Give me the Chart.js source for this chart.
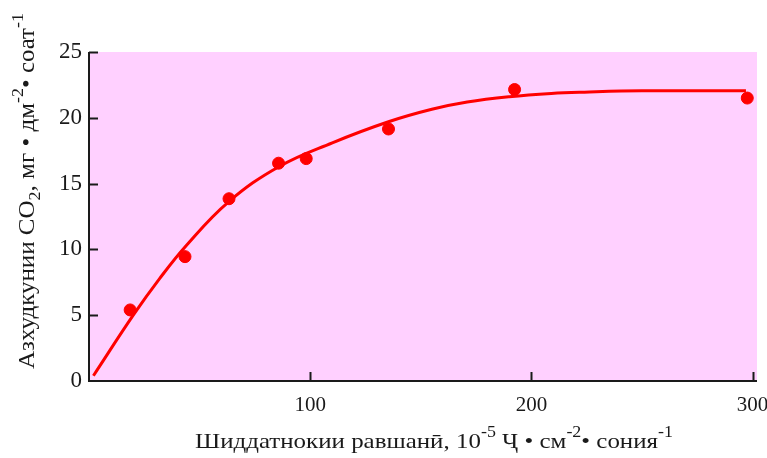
<!DOCTYPE html>
<html>
<head>
<meta charset="utf-8">
<script src="https://cdn.jsdelivr.net/npm/chart.js@4"></script>
<style>
  html, body { margin: 0; padding: 0; background: #ffffff; }
  canvas { display: block; }
</style>
</head>
<body>
<canvas id="c" width="767" height="458"></canvas>
<script>
// Measured CO2 uptake at different light intensities
const lightIntensity = [18.6, 43.4, 63.3, 85.7, 98.2, 135.4, 192.4, 297.6];
const co2Uptake      = [5.4, 9.45, 13.85, 16.55, 16.9, 19.15, 22.15, 21.5];

// Fitted response curve (light intensity, uptake)
const curveX = [2, 20, 32, 44, 63, 86, 110, 135.4, 155, 171, 190, 209, 224, 250, 297];
const curveY = [0.4, 5.0, 7.8, 10.3, 13.6, 16.3, 18.1, 19.7, 20.65, 21.2, 21.6, 21.85, 21.95, 22.05, 22.05];

// Axis tick values
const xTicks = [100, 200, 300];
const yTicks = [0, 5, 10, 15, 20, 25];

const SERIF = "'Liberation Serif', 'Times New Roman', serif";
const RED = '#ff0000';
const PINK = '#ffd0ff';
const INK = '#1a1a1a';

// Axis titles with super- and subscripts
const xTitle = [
  { t: 'Шиддатнокии равшанӣ, 10' }, { t: '-5', sup: true },
  { t: ' Ҷ • см' }, { t: '-2', sup: true },
  { t: '• сония' }, { t: '-1', sup: true }
];
const yTitle = [
  { t: 'Азхудкунии CO' }, { t: '2', sub: true },
  { t: ', мг • дм' }, { t: '-2', sup: true },
  { t: '• соат' }, { t: '-1', sup: true }
];

function segSize(s, size) {
  return (s.sup || s.sub) ? size * 0.72 : size;
}

function richWidth(ctx, segs, size) {
  let w = 0;
  for (const s of segs) {
    ctx.font = segSize(s, size) + 'px ' + SERIF;
    w += ctx.measureText(s.t).width;
  }
  return w;
}

// Draws a title centred on cx, stretched horizontally to span `span` pixels
function drawRich(ctx, segs, cx, baseline, size, span) {
  const w = richWidth(ctx, segs, size);
  const k = span / w;
  ctx.save();
  ctx.translate(cx - span / 2, baseline);
  ctx.scale(k, 1);
  ctx.textAlign = 'left';
  ctx.textBaseline = 'alphabetic';
  let x = 0;
  for (const s of segs) {
    ctx.font = segSize(s, size) + 'px ' + SERIF;
    let dy = 0;
    if (s.sup) dy = -size * 0.5;
    if (s.sub) dy = size * 0.25;
    ctx.fillText(s.t, x, dy);
    x += ctx.measureText(s.t).width;
  }
  ctx.restore();
}

const framePlugin = {
  id: 'frame',
  beforeDraw(chart) {
    const { ctx, chartArea: a } = chart;
    ctx.save();
    ctx.fillStyle = PINK;
    ctx.fillRect(a.left, a.top, a.right - a.left, a.bottom - a.top);
    ctx.restore();
  },
  beforeDatasetsDraw(chart) {
    const { ctx, chartArea: a, scales } = chart;
    ctx.save();
    ctx.strokeStyle = INK;
    ctx.lineWidth = 2;
    ctx.beginPath();
    ctx.moveTo(a.left, a.top);
    ctx.lineTo(a.left, a.bottom);
    ctx.lineTo(a.right, a.bottom);
    ctx.stroke();
    // inward tick marks
    ctx.beginPath();
    for (const v of yTicks) {
      if (v === 0) continue;
      const py = Math.round(scales.y.getPixelForValue(v)) + 0.5;
      ctx.moveTo(a.left, py);
      ctx.lineTo(a.left + 9, py);
    }
    for (const v of xTicks) {
      const px = Math.round(scales.x.getPixelForValue(v)) + 0.5;
      ctx.moveTo(px, a.bottom);
      ctx.lineTo(px, a.bottom - 9);
    }
    ctx.stroke();
    ctx.restore();
  },
  afterDraw(chart) {
    const { ctx } = chart;
    ctx.save();
    ctx.fillStyle = INK;
    drawRich(ctx, xTitle, 434, 448, 22, 478);
    ctx.translate(34, 191);
    ctx.rotate(-Math.PI / 2);
    drawRich(ctx, yTitle, 0, 0, 23, 356);
    ctx.restore();
  }
};

new Chart(document.getElementById('c'), {
  type: 'scatter',
  data: {
    datasets: [
      {
        type: 'line',
        data: curveX.map((x, i) => ({ x, y: curveY[i] })),
        borderColor: RED,
        borderWidth: 3,
        pointRadius: 0,
        tension: 0.4,
        fill: false,
        clip: false
      },
      {
        data: lightIntensity.map((x, i) => ({ x, y: co2Uptake[i] })),
        backgroundColor: RED,
        borderColor: RED,
        pointRadius: 6,
        pointStyle: 'circle',
        clip: false
      }
    ]
  },
  options: {
    responsive: false,
    animation: false,
    devicePixelRatio: 1,
    layout: { padding: { top: 52, right: 10, left: 0, bottom: 0 } },
    plugins: { legend: { display: false }, tooltip: { enabled: false } },
    scales: {
      x: {
        type: 'linear',
        min: 0,
        max: 302,
        grid: { display: false, drawTicks: false },
        border: { display: false },
        afterBuildTicks: s => { s.ticks = xTicks.map(v => ({ value: v })); },
        afterFit: s => { s.height = 77; s.paddingLeft = 0; s.paddingRight = 0; },
        ticks: {
          font: { family: SERIF, size: 21 },
          color: INK,
          padding: 12,
          maxRotation: 0,
          autoSkip: false
        }
      },
      y: {
        type: 'linear',
        min: 0,
        max: 25,
        grid: { display: false, drawTicks: false },
        border: { display: false },
        afterBuildTicks: s => { s.ticks = yTicks.map(v => ({ value: v })); },
        afterFit: s => { s.width = 89; s.paddingTop = 0; s.paddingBottom = 0; },
        ticks: {
          font: { family: SERIF, size: 23 },
          color: INK,
          padding: 7,
          autoSkip: false
        }
      }
    }
  },
  plugins: [framePlugin]
});
</script>
</body>
</html>
